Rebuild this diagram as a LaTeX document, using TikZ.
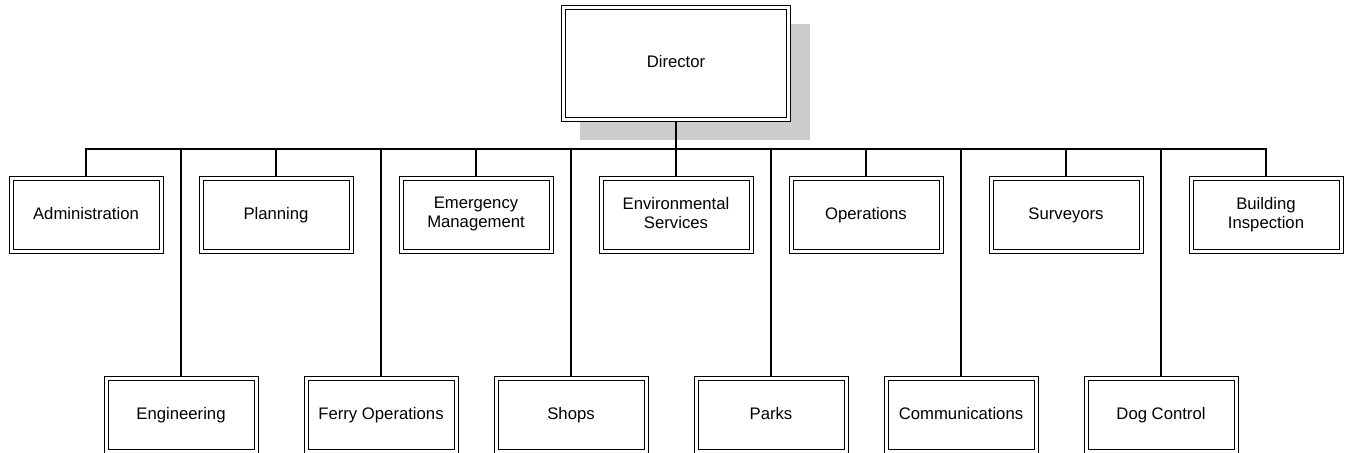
\documentclass[tikz,border=0pt]{standalone}
\usepackage{fontspec}
\setmainfont{Liberation Sans}
\usetikzlibrary{backgrounds}
\definecolor{shadowgray}{RGB}{204,204,204}
\begin{document}
\begin{tikzpicture}[x=0.5pt,y=-0.5pt,
  unit/.style={draw, double, line width=0.5pt, double distance=1.5pt,
    fill=white, minimum width=75pt, minimum height=36.5pt, align=center,
    inner sep=1pt, font=\fontsize{8.35}{9.6}\selectfont,
    execute at begin node=\strut, execute at end node=\strut},
  head/.style={unit, minimum width=112.5pt, minimum height=56pt},
  link/.style={line width=0.55pt}]
\useasboundingbox (0,0) rectangle (1346,453);

% director
\node[head] (dir) at (676,64) {Director};

% first tier
\node[unit] (adm) at (86,215.5)   {Administration};
\node[unit] (pla) at (276,215.5)  {Planning};
\node[unit] (eme) at (476,215.5)  {Emergency\\Management};
\node[unit] (env) at (676,215.5)  {Environmental\\Services};
\node[unit] (ope) at (866,215.5)  {Operations};
\node[unit] (sur) at (1066,215.5) {Surveyors};
\node[unit] (bui) at (1266,215.5) {Building\\Inspection};

% second tier
\node[unit] (eng) at (181,415.5)  {Engineering};
\node[unit] (fer) at (381,415.5)  {Ferry Operations};
\node[unit] (sho) at (571,415.5)  {Shops};
\node[unit] (par) at (771,415.5)  {Parks};
\node[unit] (com) at (961,415.5)  {Communications};
\node[unit] (dog) at (1161,415.5) {Dog Control};

\coordinate (bus) at (676,149);

\begin{scope}[on background layer]
  % shadow behind the director box
  \fill[shadowgray] ([shift={(17,17)}]dir.north west) rectangle ([shift={(21,20)}]dir.south east);
  % connectors
  \draw[link] (dir.center) -- (bus);
  \draw[link] (adm.center) |- (bus) -| (bui.center);
  \foreach \n in {pla,eme,env,ope,sur,eng,fer,sho,par,com,dog}
    \draw[link] (\n.center) -- (\n.center |- bus);
\end{scope}
\end{tikzpicture}
\end{document}
